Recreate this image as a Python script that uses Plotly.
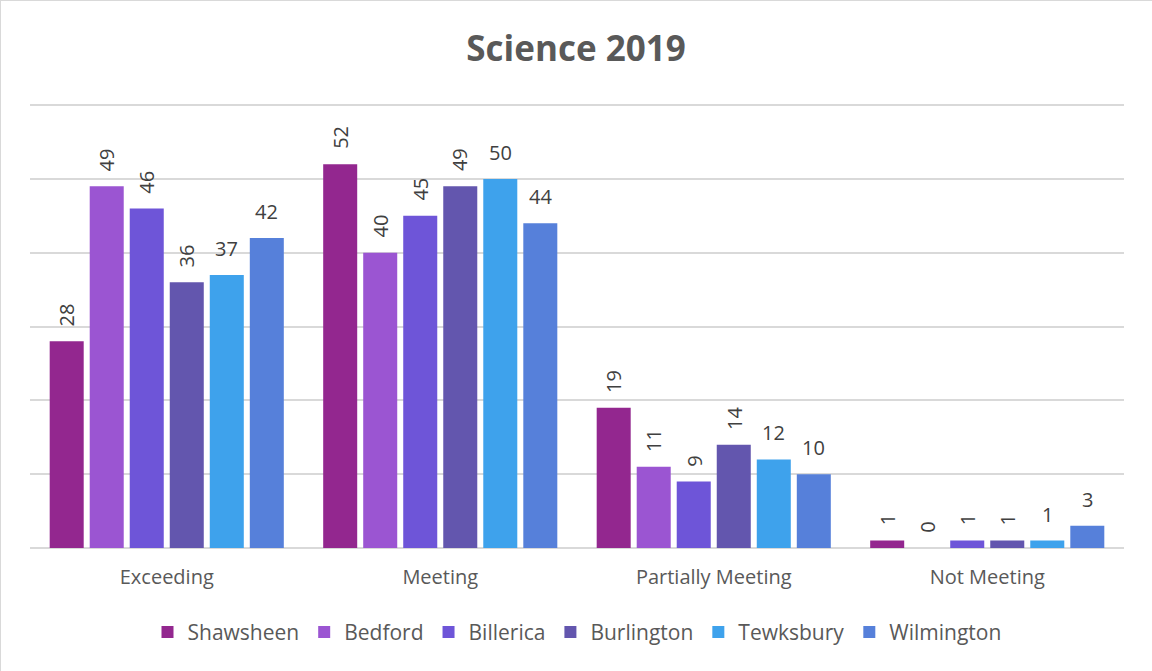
import plotly.graph_objects as go

categories = ["Exceeding", "Meeting", "Partially Meeting", "Not Meeting"]
districts = ["Shawsheen", "Bedford", "Billerica", "Burlington", "Tewksbury", "Wilmington"]

shawsheen = [28, 52, 19, 1]
bedford = [49, 40, 11, 0]
billerica = [46, 45, 9, 1]
burlington = [36, 49, 14, 1]
tewksbury = [37, 50, 12, 1]
wilmington = [42, 44, 10, 3]

series_values = [shawsheen, bedford, billerica, burlington, tewksbury, wilmington]
colors = ["#93278F", "#9B55D2", "#6E55D8", "#6356AE", "#3EA2EC", "#5680DA"]
label_angles = [-90, -90, -90, -90, 0, 0]

FONT = "Open Sans, Lato, sans-serif"

W, H = 1152, 671
ML, MR, MT, MB = 30, 28, 104, 123
BARGAP = 0.122
plot_w = W - ML - MR
cat_w = plot_w / len(categories)
slot_w = cat_w * (1 - BARGAP) / len(districts)

fig = go.Figure()
annotations = []
n = len(districts)
for j, (name, vals, col, ang) in enumerate(zip(districts, series_values, colors, label_angles)):
    fig.add_trace(go.Bar(
        name=name,
        x=categories,
        y=vals,
        marker=dict(color=col, line=dict(width=0)),
        hoverinfo="x+y+name",
    ))
    # value labels sit above each bar, centred on its slot in the group
    for cat, v in zip(categories, vals):
        annotations.append(dict(
            x=cat, y=v, xref="x", yref="y",
            text=str(v), showarrow=False,
            textangle=ang,
            xanchor="center", yanchor="bottom",
            xshift=(j - (n - 1) / 2) * slot_w,
            yshift=13 if ang else 11,
            font=dict(family=FONT, size=20, color="#404040"),
        ))

fig.update_layout(
    width=W,
    height=H,
    paper_bgcolor="white",
    plot_bgcolor="white",
    barmode="group",
    bargap=BARGAP,
    bargroupgap=0.15,
    margin=dict(l=ML, r=MR, t=MT, b=MB),
    title=dict(
        text="<b>Science 2019</b>",
        x=0.5,
        xanchor="center",
        y=0.928,
        yanchor="middle",
        font=dict(family=FONT, size=35, color="#595959"),
    ),
    legend=dict(
        orientation="h",
        x=0.5,
        xanchor="center",
        y=-0.19,
        yanchor="middle",
        font=dict(family=FONT, size=21, color="#595959"),
        itemwidth=30,
        traceorder="normal",
    ),
    xaxis=dict(
        showgrid=False,
        showline=False,
        ticks="",
        ticklabelstandoff=15,
        tickfont=dict(family=FONT, size=20, color="#595959"),
    ),
    yaxis=dict(
        range=[0, 60.15],
        tickvals=[0, 10, 20, 30, 40, 50, 60],
        showticklabels=False,
        showgrid=True,
        gridcolor="#D9D9D9",
        gridwidth=2,
        zeroline=True,
        zerolinecolor="#D9D9D9",
        zerolinewidth=2,
    ),
    annotations=annotations,
    shapes=[
        dict(type="line", xref="paper", yref="paper",
             x0=-ML / plot_w, x1=-ML / plot_w, y0=-MB / (H - MT - MB), y1=1 + MT / (H - MT - MB),
             line=dict(color="#D9D9D9", width=2), layer="below"),
        dict(type="line", xref="paper", yref="paper",
             x0=-ML / plot_w, x1=1 + MR / plot_w, y0=1 + MT / (H - MT - MB), y1=1 + MT / (H - MT - MB),
             line=dict(color="#D9D9D9", width=2), layer="below"),
    ],
)

fig.write_html("out.html")
